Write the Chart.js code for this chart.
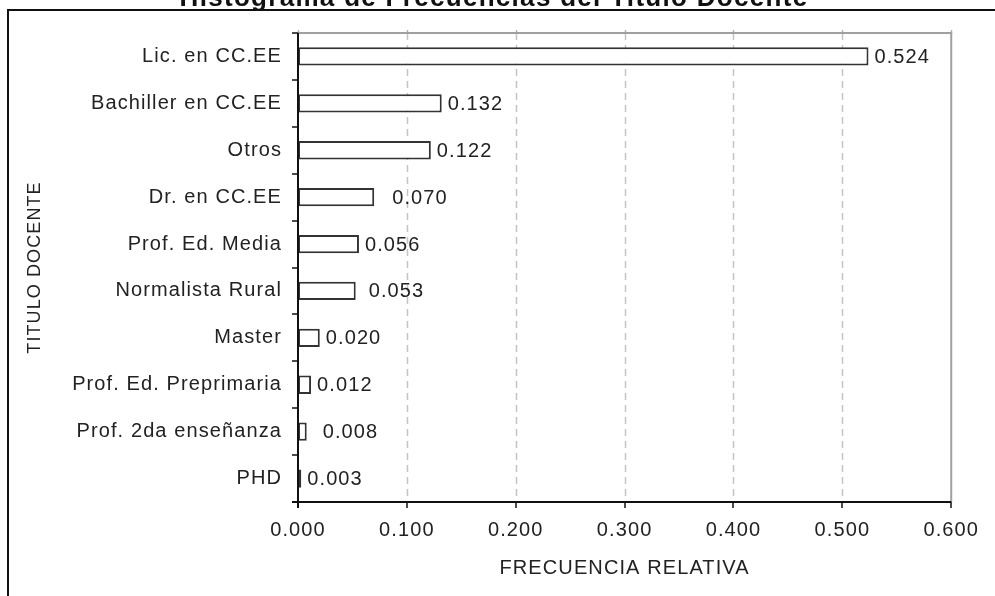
<!DOCTYPE html>
<html>
<head>
<meta charset="utf-8">
<script src="https://cdn.jsdelivr.net/npm/chart.js@4/dist/chart.umd.min.js"></script>
<style>
html,body{margin:0;padding:0;background:#fff;}
canvas{display:block;}
</style>
</head>
<body>
<canvas id="c" width="995" height="596"></canvas>
<script>
const chartTitle = 'Histograma de Frecuencias del Titulo Docente';
const categories = ['Lic. en CC.EE', 'Bachiller en CC.EE', 'Otros', 'Dr. en CC.EE', 'Prof. Ed. Media',
  'Normalista Rural', 'Master', 'Prof. Ed. Preprimaria', 'Prof. 2da enseñanza', 'PHD'];
const frecuencia = [0.524, 0.132, 0.122, 0.070, 0.056, 0.053, 0.020, 0.012, 0.008, 0.003];
const xTickValues = [0, 0.1, 0.2, 0.3, 0.4, 0.5, 0.6];
const xTitle = 'FRECUENCIA RELATIVA';
const yTitle = 'TITULO DOCENTE';

const FONT = "'Liberation Sans', Arial, sans-serif";
const SPACING = '1.1px';

const decor = {
  id: 'decor',
  beforeUpdate(chart) { chart.ctx.letterSpacing = SPACING; },
  beforeDraw(chart, args, opts) {
    const ctx = chart.ctx;
    ctx.letterSpacing = SPACING;
    ctx.save();
    ctx.fillStyle = '#fff';
    ctx.fillRect(0, 0, chart.width, chart.height);
    // outer frame
    ctx.strokeStyle = '#111';
    ctx.lineWidth = 2;
    ctx.beginPath();
    ctx.moveTo(8, chart.height);
    ctx.lineTo(8, 10);
    ctx.lineTo(chart.width, 10);
    ctx.stroke();
    // title (partly cut off at top)
    ctx.letterSpacing = '1.3px';
    ctx.font = "bold 26px " + FONT;
    ctx.fillStyle = '#111';
    ctx.textAlign = 'center';
    ctx.textBaseline = 'alphabetic';
    ctx.fillText(chartTitle, 494, 6);
    ctx.restore();
  },
  beforeDatasetsDraw(chart) {
    const ctx = chart.ctx;
    const a = chart.chartArea;
    const xs = chart.scales.x;
    ctx.save();
    // dashed gridlines
    ctx.strokeStyle = '#c4c4c4';
    ctx.lineWidth = 1.5;
    ctx.setLineDash([7, 5]);
    xTickValues.forEach((v, i) => {
      if (i === 0 || i === xTickValues.length - 1) return;
      const px = Math.round(xs.getPixelForValue(v)) + 0.5;
      ctx.beginPath();
      ctx.moveTo(px, a.top);
      ctx.lineTo(px, a.bottom);
      ctx.stroke();
    });
    ctx.setLineDash([]);
    // small marks above top border
    ctx.strokeStyle = '#b0b0b0';
    xTickValues.forEach((v) => {
      const px = Math.round(xs.getPixelForValue(v)) + 0.5;
      ctx.beginPath();
      ctx.moveTo(px, a.top - 3);
      ctx.lineTo(px, a.top);
      ctx.stroke();
    });
    // gray top and right border
    ctx.strokeStyle = '#a0a0a0';
    ctx.lineWidth = 2;
    ctx.beginPath();
    ctx.moveTo(a.left, a.top);
    ctx.lineTo(a.right, a.top);
    ctx.lineTo(a.right, a.bottom);
    ctx.stroke();
    ctx.restore();
  },
  afterDatasetsDraw(chart, args, opts) {
    const ctx = chart.ctx;
    const a = chart.chartArea;
    const xs = chart.scales.x;
    const ys = chart.scales.y;
    ctx.save();
    ctx.strokeStyle = '#111';
    ctx.lineWidth = 2;
    // axes
    ctx.beginPath();
    ctx.moveTo(a.left, a.top);
    ctx.lineTo(a.left, a.bottom + 6);
    ctx.moveTo(a.left - 6, a.bottom);
    ctx.lineTo(a.right, a.bottom);
    ctx.stroke();
    // x ticks
    ctx.lineWidth = 1.5;
    xTickValues.forEach((v) => {
      const px = Math.round(xs.getPixelForValue(v));
      ctx.beginPath();
      ctx.moveTo(px, a.bottom);
      ctx.lineTo(px, a.bottom + 6);
      ctx.stroke();
    });
    // y ticks at category boundaries
    const n = categories.length;
    for (let i = 0; i <= n; i++) {
      const py = Math.round(ys.getPixelForValue(i - 0.5));
      ctx.beginPath();
      ctx.moveTo(a.left - 6, py);
      ctx.lineTo(a.left, py);
      ctx.stroke();
    }
    // value labels
    ctx.letterSpacing = SPACING;
    ctx.font = "20px " + FONT;
    ctx.fillStyle = '#222';
    ctx.textAlign = 'left';
    ctx.textBaseline = 'middle';
    const meta = chart.getDatasetMeta(0);
    meta.data.forEach((bar, i) => {
      const extra = (opts.extraPad && opts.extraPad[i]) || 0;
      ctx.fillText(frecuencia[i].toFixed(3), bar.x + 6 + extra, bar.y + 1);
    });
    ctx.restore();
  }
};

Chart.defaults.font.family = FONT;
Chart.defaults.font.size = 20;
Chart.defaults.color = '#222';

new Chart(document.getElementById('c'), {
  type: 'bar',
  data: {
    labels: categories,
    datasets: [{
      data: frecuencia,
      backgroundColor: '#ffffff',
      borderColor: '#333333',
      borderWidth: 2,
      borderSkipped: false,
      barPercentage: 0.39,
      categoryPercentage: 1.0
    }]
  },
  options: {
    indexAxis: 'y',
    responsive: false,
    animation: false,
    devicePixelRatio: 1,
    layout: { padding: { top: 33, right: 41, bottom: 0, left: 0 } },
    plugins: {
      legend: { display: false },
      tooltip: { enabled: false },
      title: { display: false },
      decor: { extraPad: [0, 0, 0, 12, 0, 7, 0, 0, 10, 0] }
    },
    scales: {
      x: {
        type: 'linear',
        min: 0,
        max: 0.6,
        afterBuildTicks: (s) => { s.ticks = xTickValues.map(v => ({ value: v })); },
        afterFit: (s) => { s.height = 94; },
        grid: { display: false, drawTicks: false },
        border: { display: false },
        ticks: {
          padding: 16,
          maxRotation: 0,
          autoSkip: false,
          color: '#222',
          font: { size: 20 },
          callback: (v) => Number(v).toFixed(3)
        },
        title: {
          display: true,
          text: xTitle,
          color: '#222',
          font: { size: 20 },
          padding: { top: 0, bottom: 16 }
        }
      },
      y: {
        type: 'category',
        afterFit: (s) => { s.width = 298; },
        grid: { display: false, drawTicks: false },
        border: { display: false },
        ticks: {
          padding: 16,
          autoSkip: false,
          color: '#222',
          font: { size: 20 }
        },
        title: {
          display: true,
          text: yTitle,
          color: '#222',
          font: { size: 18 },
          padding: { top: 24, bottom: 0 }
        }
      }
    }
  },
  plugins: [decor]
});
</script>
</body>
</html>
